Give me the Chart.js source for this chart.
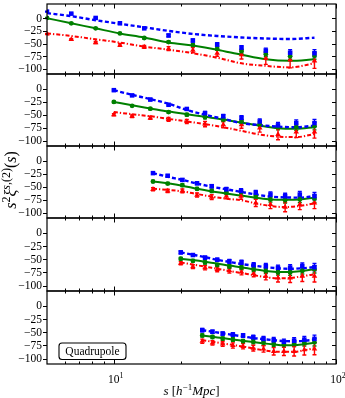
<!DOCTYPE html>
<html>
<head>
<meta charset="utf-8">
<script src="https://cdn.jsdelivr.net/npm/chart.js@4.4.1/dist/chart.umd.min.js"></script>
<style>
	html, body { margin: 0; padding: 0; background: #fff; }
	#painel { position: relative; width: 345px; height: 398px; }
	#painel canvas { position: absolute; left: 0; top: 0; }
</style>
</head>
<body>
<div id="painel"></div>
<script>
// separations s [h^-1 Mpc], one row per panel (top to bottom)
var SEPARATIONS = [
	[5.0, 6.43, 8.28, 10.65, 13.7, 17.63, 22.68, 29.18, 37.55, 48.31, 62.16, 80.0],
	[10.0, 12.08, 14.59, 17.63, 21.3, 25.73, 31.09, 37.55, 45.37, 54.81, 66.22, 80.0],
	[15.0, 17.47, 20.34, 23.68, 27.57, 32.1, 37.38, 43.53, 50.69, 59.02, 68.72, 80.0],
	[20.0, 22.69, 25.73, 29.19, 33.11, 37.55, 42.6, 48.32, 54.81, 62.17, 70.52, 80.0],
	[25.0, 27.79, 30.89, 34.34, 38.17, 42.43, 47.17, 52.43, 58.28, 64.79, 72.02, 80.0]
];

// measured points s^2 xi(s)
var BLUE_DATA = [
	[13, 9, 0.5, -10, -20, -34, -44, -52, -58, -64, -68, -69],
	[-3, -13, -21, -31, -39, -47, -53, -56, -63, -70.5, -66, -66],
	[-24, -29, -37, -43.5, -49, -55, -58, -61.5, -65, -68, -65, -68],
	[-37, -42, -47, -51, -54, -56, -61, -63, -66, -66, -63, -65],
	[-46, -49, -52.5, -54.5, -56, -59.5, -62.5, -65, -68, -66, -64, -62.5]
];
var GREEN_DATA = [
	[0.5, -10, -20, -30, -39, -47, -53, -60, -65, -71, -75, -74],
	[-25.5, -33, -38.5, -45, -50, -55, -59.5, -63, -68, -74, -74, -72],
	[-40, -44, -47, -54, -58, -61.5, -60, -68, -74.5, -76, -74.5, -73],
	[-49, -53, -56, -61, -64, -66, -69, -72, -75, -75, -72, -69],
	[-56, -59, -62, -64, -67, -68, -70, -72, -73.5, -71.5, -70, -69]
];
var RED_DATA = [
	[-31, -42, -48, -53, -56.5, -60, -63, -69, -72, -79, -82, -84],
	[-50, -53, -56, -59, -63, -68, -69, -69, -75.5, -88, -83, -83],
	[-55, -58, -58, -66, -70, -68, -68, -81, -84, -89, -84, -81],
	[-57.5, -64, -66, -69, -71, -74, -77, -82, -85, -85, -82, -82],
	[-67, -70, -72, -75, -76.5, -80, -81.5, -86, -86, -86, -83, -81.5]
];

// error bar half-lengths
var BLUE_ERR = [
	[1, 1, 1, 1.5, 2, 2.5, 3, 3.5, 4, 5, 6, 7],
	[1.5, 1.5, 2, 2, 2.5, 3, 3.5, 4, 5, 5.5, 6, 7],
	[2, 2, 2.5, 2.5, 3, 3.5, 4, 4.5, 5, 5.5, 6, 7],
	[2.5, 2.5, 3, 3, 3.5, 4, 4.5, 5, 5, 5.5, 6, 7],
	[3, 3, 3, 3.5, 3.5, 4, 4.5, 5, 5, 5.5, 6, 7]
];
var GREEN_ERR = [
	[1, 1, 1, 1.5, 2, 2, 3, 3.5, 4, 5, 6, 7],
	[1.5, 1.5, 2, 2, 2.5, 3, 3.5, 4, 4.5, 5, 6, 7],
	[2, 2, 2.5, 2.5, 3, 3.5, 4, 4.5, 5, 5.5, 6, 7],
	[2.5, 2.5, 3, 3, 3.5, 4, 4.5, 5, 5, 5.5, 6, 7],
	[3, 3, 3, 3.5, 3.5, 4, 4.5, 5, 5, 5.5, 6, 7]
];
var RED_ERR = [
	[1, 1.5, 2, 2.5, 3, 4, 5, 6, 8.5, 12, 16, 15],
	[2, 2.5, 3, 3.5, 4, 5, 6, 7, 8, 10, 11, 12],
	[3, 3, 3.5, 4, 4.5, 5, 6, 7, 8, 9, 10, 11],
	[3, 3.5, 4, 4.5, 5, 5.5, 6, 7, 8, 9, 10, 11],
	[4, 4, 4.5, 5, 5, 5.5, 6, 7, 8, 9, 10, 11]
];

// model curves at the same separations
var BLUE_MODEL = [
	[10, 4, -4, -11, -18, -25, -31, -35, -38, -40, -41, -38.5],
	[-3, -12, -20, -29, -41, -50, -58, -66, -70, -73, -74, -71],
	[-24, -31, -37, -44, -50, -55, -60, -65, -69, -70.5, -71, -68],
	[-37, -41.5, -46, -51, -55, -59, -62, -65, -67, -68, -67, -65],
	[-46, -49, -52, -55, -58, -61, -63, -65, -66.5, -67, -66, -64]
];
var GREEN_MODEL = [
	[0, -10, -20, -30, -38, -48, -54, -62, -72, -81, -84, -81],
	[-25.5, -32, -38, -44, -49, -54, -59, -65, -71, -76, -77, -74],
	[-40, -43.5, -48, -54, -59, -63, -67, -71, -74.5, -75, -74.5, -71],
	[-49, -51.5, -54.5, -58, -62, -65, -69, -72, -74, -74, -72, -69],
	[-56, -58.5, -61, -63.5, -66, -68.5, -71, -73, -74.5, -74.5, -72.5, -70]
];
var RED_MODEL = [
	[-30, -35, -41.5, -48, -56, -62, -69, -78, -89, -94, -97, -89],
	[-45, -49, -53, -58, -63, -68, -74, -81, -88, -92, -93, -87],
	[-54, -56, -59, -64, -69, -73, -76, -82, -87, -89, -87, -82],
	[-56, -60, -64, -68, -72, -76, -80, -84, -86, -85.5, -82, -78.5],
	[-65, -68, -71, -74, -77, -80.5, -84, -86.5, -87, -87, -84, -80]
];

var Y_TICKS = [0, -25, -50, -75, -100];
var X_MINOR = [6, 7, 8, 9, 20, 30, 40, 50, 60, 70, 80, 90];
var X_MAJOR = [10, 100];
var PANEL_LABEL = 'Quadrupole';

var FONTE = '"Liberation Serif", "DejaVu Serif", serif';
var AZUL = '#0000ff', VERDE = '#008000', VERMELHO = '#ff0000';

var PANEL_TOP = [2, 74, 146, 218, 291];
var PANEL_BOTTOM = [74, 146, 218, 291, 364];

function pontos(xs, ys) {
	return xs.map(function(x, i) { return { x: x, y: ys[i] }; });
}

function textoRico(ctx, partes, cx, base, tam) {
	var menor = Math.round(tam * 0.72);
	var larguras = [], total = 0;
	function fonte(p) {
		return (p[1] ? 'italic ' : '') + (p[2] ? menor : tam) + 'px ' + FONTE;
	}
	partes.forEach(function(p) {
		ctx.font = fonte(p);
		var w = ctx.measureText(p[0]).width;
		larguras.push(w);
		total += w;
	});
	var x = cx - total / 2;
	ctx.textAlign = 'left';
	ctx.textBaseline = 'alphabetic';
	partes.forEach(function(p, k) {
		ctx.font = fonte(p);
		ctx.fillText(p[0], x, base - (p[2] ? tam * 0.4 : 0));
		x += larguras[k];
	});
}

var errorBars = {
	id: 'errorBars',
	beforeDatasetsDraw: function(chart) {
		var ctx = chart.ctx, ys = chart.scales.y;
		chart.data.datasets.forEach(function(ds, i) {
			if (!ds.erros) return;
			var meta = chart.getDatasetMeta(i);
			ctx.save();
			ctx.strokeStyle = ds.borderColor;
			ctx.lineWidth = 1.4;
			meta.data.forEach(function(pt, j) {
				var v = ds.data[j].y, e = ds.erros[j];
				var y1 = ys.getPixelForValue(v + e), y2 = ys.getPixelForValue(v - e);
				ctx.beginPath();
				ctx.moveTo(pt.x, y1); ctx.lineTo(pt.x, y2);
				ctx.moveTo(pt.x - 2, y1); ctx.lineTo(pt.x + 2, y1);
				ctx.moveTo(pt.x - 2, y2); ctx.lineTo(pt.x + 2, y2);
				ctx.stroke();
			});
			ctx.restore();
		});
	}
};

var molduraPainel = {
	id: 'molduraPainel',
	afterDraw: function(chart, args, opts) {
		var ctx = chart.ctx, a = chart.chartArea;
		var xs = chart.scales.x, ys = chart.scales.y;
		ctx.save();
		ctx.strokeStyle = '#000';
		ctx.fillStyle = '#000';
		ctx.lineWidth = 1.2;
		ctx.strokeRect(a.left, a.top, a.right - a.left, a.bottom - a.top);

		ctx.lineWidth = 1;
		ctx.beginPath();
		Y_TICKS.forEach(function(v) {
			var py = Math.round(ys.getPixelForValue(v)) + 0.5;
			ctx.moveTo(a.left - 4, py); ctx.lineTo(a.left, py);
			ctx.moveTo(a.right - 4, py); ctx.lineTo(a.right, py);
		});
		X_MINOR.concat(X_MAJOR).forEach(function(v) {
			var px = Math.round(xs.getPixelForValue(v)) + 0.5;
			var len = X_MAJOR.indexOf(v) >= 0 ? 4.5 : 2.5;
			ctx.moveTo(px, a.bottom); ctx.lineTo(px, a.bottom - len);
			ctx.moveTo(px, a.top); ctx.lineTo(px, a.top + len);
		});
		ctx.stroke();

		ctx.font = '11.5px ' + FONTE;
		ctx.textAlign = 'right';
		ctx.textBaseline = 'middle';
		Y_TICKS.forEach(function(v) {
			var txt = v < 0 ? '\u2212' + Math.abs(v) : String(v);
			ctx.fillText(txt, a.left - 5, ys.getPixelForValue(v) + 0.5);
		});

		if (opts.tituloY) {
			ctx.save();
			ctx.translate(11, (a.top + a.bottom) / 2 - 2);
			ctx.rotate(-Math.PI / 2);
			textoRico(ctx, [['s', 1], ['2', 0, 1], ['\u03be', 1], ['s', 1, 1], [',(2)', 0, 1],
				['(', 0], ['s', 1], [')', 0]], 0, 5, 16);
			ctx.restore();
		}

		if (opts.ultimo) {
			X_MAJOR.forEach(function(v) {
				textoRico(ctx, [['10', 0], [String(Math.round(Math.log10(v))), 0, 1]],
					xs.getPixelForValue(v) + 2, a.bottom + 19, 11.5);
			});
			textoRico(ctx, [['s', 1], [' [', 0], ['h', 1], ['\u22121', 0, 1], ['Mpc', 1], [']', 0]],
				(a.left + a.right) / 2, 395, 13);

			// label box
			var bx = 59, by = 343, bw = 67, bh = 16.5, r = 3;
			ctx.beginPath();
			ctx.moveTo(bx + r, by);
			ctx.arcTo(bx + bw, by, bx + bw, by + bh, r);
			ctx.arcTo(bx + bw, by + bh, bx, by + bh, r);
			ctx.arcTo(bx, by + bh, bx, by, r);
			ctx.arcTo(bx, by, bx + bw, by, r);
			ctx.closePath();
			ctx.fillStyle = '#fff';
			ctx.fill();
			ctx.lineWidth = 1.1;
			ctx.stroke();
			ctx.fillStyle = '#000';
			ctx.font = '11.5px ' + FONTE;
			ctx.textAlign = 'center';
			ctx.textBaseline = 'middle';
			ctx.fillText(PANEL_LABEL, bx + bw / 2, by + bh / 2 + 0.5);
		}
		ctx.restore();
	}
};

function criarPainel(p) {
	var canvas = document.createElement('canvas');
	canvas.width = 345;
	canvas.height = 398;
	document.getElementById('painel').appendChild(canvas);
	var s = SEPARATIONS[p];

	new Chart(canvas.getContext('2d'), {
		type: 'line',
		data: {
			datasets: [
				{ data: pontos(s, BLUE_MODEL[p]), borderColor: AZUL, borderWidth: 2.4,
				  borderDash: [4, 2.5], pointRadius: 0, cubicInterpolationMode: 'monotone', order: 2 },
				{ data: pontos(s, GREEN_MODEL[p]), borderColor: VERDE, borderWidth: 2,
				  pointRadius: 0, cubicInterpolationMode: 'monotone', order: 2 },
				{ data: pontos(s, RED_MODEL[p]), borderColor: VERMELHO, borderWidth: 2,
				  borderDash: [4, 2, 1.3, 2], pointRadius: 0, cubicInterpolationMode: 'monotone', order: 2 },
				{ data: pontos(s, BLUE_DATA[p]), erros: BLUE_ERR[p], showLine: false,
				  borderColor: AZUL, backgroundColor: AZUL, pointStyle: 'rect',
				  pointRadius: 3.2, pointBorderWidth: 0, order: 1 },
				{ data: pontos(s, GREEN_DATA[p]), erros: GREEN_ERR[p], showLine: false,
				  borderColor: VERDE, backgroundColor: VERDE, pointStyle: 'circle',
				  pointRadius: 2.4, pointBorderWidth: 0, order: 1 },
				{ data: pontos(s, RED_DATA[p]), erros: RED_ERR[p], showLine: false,
				  borderColor: VERMELHO, backgroundColor: VERMELHO, pointStyle: 'triangle',
				  pointRadius: 3.2, pointBorderWidth: 0, order: 1 }
			]
		},
		options: {
			responsive: false,
			animation: false,
			devicePixelRatio: 1,
			layout: { padding: { left: 47, right: 9, top: PANEL_TOP[p], bottom: 398 - PANEL_BOTTOM[p] } },
			scales: {
				x: { type: 'logarithmic', min: 5, max: 100, display: false },
				y: { type: 'linear', min: -110, max: 28, display: false }
			},
			plugins: {
				legend: { display: false },
				tooltip: { enabled: false },
				molduraPainel: { tituloY: p === 2, ultimo: p === 4 }
			}
		},
		plugins: [errorBars, molduraPainel]
	});
}

for (var p = 0; p < SEPARATIONS.length; p++) {
	criarPainel(p);
}
</script>
</body>
</html>
